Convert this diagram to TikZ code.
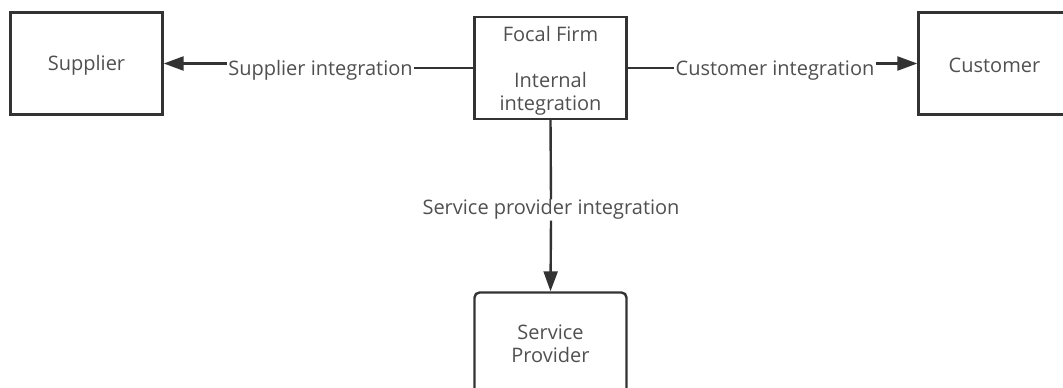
\documentclass[tikz,border=0pt]{standalone}
\usepackage{fontspec}
\setmainfont{Open Sans}
\usetikzlibrary{arrows.meta}
\definecolor{ln}{HTML}{333333}
\definecolor{tx}{HTML}{505050}
\begin{document}
\begin{tikzpicture}[x=1pt,y=-1pt,
  box/.style={draw=ln, line width=2.4pt, minimum width=152pt, minimum height=102pt,
    inner sep=0pt, text=tx, align=center, font=\fontsize{20}{23}\selectfont},
  txt/.style={inner sep=0pt, text=tx, align=center, font=\fontsize{20}{23}\selectfont},
  lbl/.style={fill=white, inner sep=1pt, text=tx, text height=14pt, text depth=5pt, font=\fontsize{20}{23}\selectfont},
  conn/.style={draw=ln, line width=2.4pt},
  arr/.style={conn, -{Triangle[length=20pt,width=14pt]}}]
\useasboundingbox (0,0) rectangle (1063,388);
\clip (0,0) rectangle (1063,388);
\node[box] (sup) at (86.5,63.5) {};
\node[txt] (supt) at (86.5,65.5) {Supplier};
\node[box] (ff) at (550.5,68) {};
\node[txt] (fft) at (550.5,71) {Focal Firm\\[23pt]Internal\\integration};
\node[box] (cus) at (994.5,63.5) {};
\node[txt] (cust) at (994.5,65) {Customer};
\node[box, rounded corners=5pt] (sp) at (550.5,343.5) {Service\\Provider};
\node[lbl] (sl) at (320.5,71) {Supplier integration};
\node[lbl] (cl) at (775,71) {Customer integration};
\node[lbl] (pl) at (551,210) {Service provider integration};
\draw[conn] (ff.west) -- (ff.west -| sl.east);
\draw[arr] (sl.west |- sup.east) -- (sup.east);
\draw[conn] (ff.east) -- (ff.east -| cl.west);
\draw[arr] (cl.east |- cus.west) -- (cus.west);
\draw[conn] (ff.south) -- (pl.north);
\draw[arr] (pl.south) -- (sp.north);
\end{tikzpicture}
\end{document}
